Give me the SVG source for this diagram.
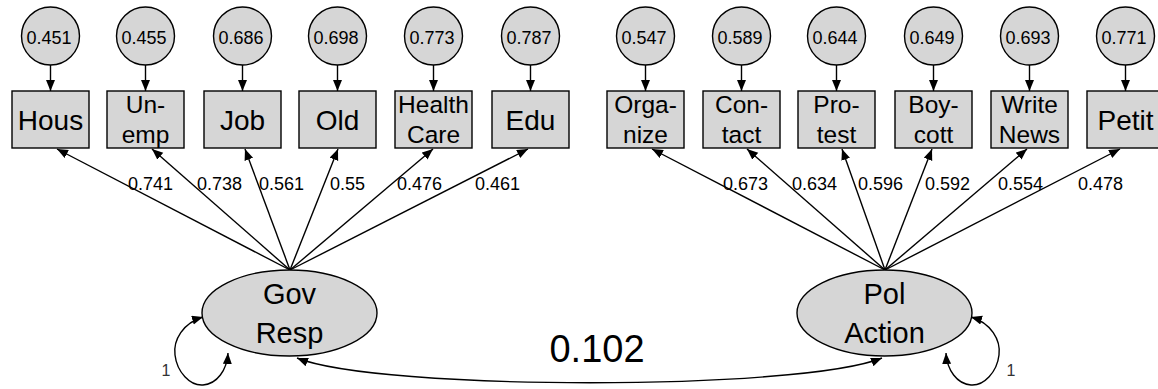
<svg xmlns="http://www.w3.org/2000/svg" width="1158" height="389" viewBox="0 0 1158 389">
  <style>
    text { font-family: "Liberation Sans", Arial, sans-serif; fill: #000; }
    .err circle { fill: #d6d6d6; stroke: #000; stroke-width: 1.4; }
    .err text { font-size: 18px; text-anchor: middle; }
    .obs rect { fill: #d6d6d6; stroke: #000; stroke-width: 1.4; }
    .obs text { text-anchor: middle; }
    .one { font-size: 28px; }
    .two { font-size: 24.5px; }
    .lat ellipse { fill: #d6d6d6; stroke: #000; stroke-width: 1.4; }
    .lat text { font-size: 29px; text-anchor: middle; }
    .edge { fill: none; stroke: #000; stroke-width: 1.4; marker-end: url(#head); }
    .both { marker-start: url(#headRev); }
    .coef { font-size: 18px; }
    .unit { font-size: 16px; text-anchor: middle; fill: #333; }
  </style>
  <defs>
    <marker id="head" markerUnits="userSpaceOnUse" markerWidth="12" markerHeight="10" refX="11" refY="4.5" orient="auto">
      <path d="M0,0 L11,4.5 L0,9 z" fill="#000"/>
    </marker>
    <marker id="headRev" markerUnits="userSpaceOnUse" markerWidth="12" markerHeight="10" refX="11" refY="4.5" orient="auto-start-reverse">
      <path d="M0,0 L11,4.5 L0,9 z" fill="#000"/>
    </marker>
  </defs>
  <rect width="1158" height="389" fill="#fff"/>

  <!-- connectors -->
  <g id="connectors">
    <!-- error terms to indicators -->
    <line class="edge" x1="50.5" y1="65" x2="50.5" y2="91"/>
    <line class="edge" x1="145.5" y1="65" x2="145.5" y2="91"/>
    <line class="edge" x1="242.5" y1="65" x2="242.5" y2="91"/>
    <line class="edge" x1="337.5" y1="65" x2="337.5" y2="91"/>
    <line class="edge" x1="433.5" y1="65" x2="433.5" y2="91"/>
    <line class="edge" x1="530.5" y1="65" x2="530.5" y2="91"/>
    <line class="edge" x1="645.5" y1="65" x2="645.5" y2="91"/>
    <line class="edge" x1="741.5" y1="65" x2="741.5" y2="91"/>
    <line class="edge" x1="836.5" y1="65" x2="836.5" y2="91"/>
    <line class="edge" x1="933.5" y1="65" x2="933.5" y2="91"/>
    <line class="edge" x1="1029.5" y1="65" x2="1029.5" y2="91"/>
    <line class="edge" x1="1125.5" y1="65" x2="1125.5" y2="91"/>
    <!-- Gov Resp loadings -->
    <line class="edge" x1="290" y1="270" x2="57" y2="149"/>
    <line class="edge" x1="290" y1="270" x2="152" y2="149"/>
    <line class="edge" x1="290" y1="270" x2="245" y2="149"/>
    <line class="edge" x1="290" y1="270" x2="338" y2="149"/>
    <line class="edge" x1="290" y1="270" x2="433" y2="149"/>
    <line class="edge" x1="290" y1="270" x2="528" y2="149"/>
    <!-- Pol Action loadings -->
    <line class="edge" x1="885" y1="270" x2="652" y2="149"/>
    <line class="edge" x1="885" y1="270" x2="747" y2="149"/>
    <line class="edge" x1="885" y1="270" x2="842" y2="149"/>
    <line class="edge" x1="885" y1="270" x2="932" y2="149"/>
    <line class="edge" x1="885" y1="270" x2="1027" y2="149"/>
    <line class="edge" x1="885" y1="270" x2="1120" y2="149"/>
    <!-- latent variances -->
    <path class="edge both" d="M203,317 C183,323 173,340 175,355 C177,372 190,386 203,385 C217,384 227,370 228,353"/>
    <path class="edge both" d="M971,317 C991,323 1001,340 999,355 C997,372 984,386 971,385 C957,384 947,370 946,353"/>
    <!-- covariance -->
    <path class="edge both" d="M297,358 C380,391 800,391 882,358"/>
    <!-- loading values -->
    <text class="coef" x="128" y="190">0.741</text>
    <text class="coef" x="197" y="190">0.738</text>
    <text class="coef" x="259" y="190">0.561</text>
    <text class="coef" x="330" y="190">0.55</text>
    <text class="coef" x="397" y="190">0.476</text>
    <text class="coef" x="475" y="190">0.461</text>
    <text class="coef" x="723" y="190">0.673</text>
    <text class="coef" x="792" y="190">0.634</text>
    <text class="coef" x="858" y="190">0.596</text>
    <text class="coef" x="925" y="190">0.592</text>
    <text class="coef" x="998" y="190">0.554</text>
    <text class="coef" x="1078" y="190">0.478</text>
    <text class="unit" x="166" y="376">1</text>
    <text class="unit" x="1011" y="376">1</text>
    <text style="font-size:38px" x="597" y="362" text-anchor="middle">0.102</text>
  </g>

  <!-- error terms -->
  <g id="e_hous" class="err"><circle cx="50.5" cy="36" r="29"/><text x="49" y="44">0.451</text></g>
  <g id="e_unemp" class="err"><circle cx="145.5" cy="36" r="29"/><text x="144" y="44">0.455</text></g>
  <g id="e_job" class="err"><circle cx="242.5" cy="36" r="29"/><text x="241" y="44">0.686</text></g>
  <g id="e_old" class="err"><circle cx="337.5" cy="36" r="29"/><text x="336" y="44">0.698</text></g>
  <g id="e_health" class="err"><circle cx="433.5" cy="36" r="29"/><text x="432" y="44">0.773</text></g>
  <g id="e_edu" class="err"><circle cx="530.5" cy="36" r="29"/><text x="529" y="44">0.787</text></g>
  <g id="e_organize" class="err"><circle cx="645.5" cy="36" r="29"/><text x="644" y="44">0.547</text></g>
  <g id="e_contact" class="err"><circle cx="741.5" cy="36" r="29"/><text x="740" y="44">0.589</text></g>
  <g id="e_protest" class="err"><circle cx="836.5" cy="36" r="29"/><text x="835" y="44">0.644</text></g>
  <g id="e_boycott" class="err"><circle cx="933.5" cy="36" r="29"/><text x="932" y="44">0.649</text></g>
  <g id="e_write" class="err"><circle cx="1029.5" cy="36" r="29"/><text x="1028" y="44">0.693</text></g>
  <g id="e_petit" class="err"><circle cx="1125.5" cy="36" r="29"/><text x="1124" y="44">0.771</text></g>

  <!-- indicators -->
  <g id="hous" class="obs"><rect x="12" y="91" width="77" height="57"/><text class="one" x="50.5" y="130">Hous</text></g>
  <g id="unemp" class="obs"><rect x="107" y="91" width="77" height="57"/><text class="two" x="145.5" y="113">Un-</text><text class="two" x="145.5" y="143">emp</text></g>
  <g id="job" class="obs"><rect x="204" y="91" width="77" height="57"/><text class="one" x="242.5" y="130">Job</text></g>
  <g id="old" class="obs"><rect x="299" y="91" width="77" height="57"/><text class="one" x="337.5" y="130">Old</text></g>
  <g id="health" class="obs"><rect x="395" y="91" width="77" height="57"/><text class="two" x="433.5" y="113">Health</text><text class="two" x="433.5" y="143">Care</text></g>
  <g id="edu" class="obs"><rect x="492" y="91" width="77" height="57"/><text class="one" x="530.5" y="130">Edu</text></g>
  <g id="organize" class="obs"><rect x="607" y="91" width="77" height="57"/><text class="two" x="645.5" y="113">Orga-</text><text class="two" x="645.5" y="143">nize</text></g>
  <g id="contact" class="obs"><rect x="703" y="91" width="77" height="57"/><text class="two" x="741.5" y="113">Con-</text><text class="two" x="741.5" y="143">tact</text></g>
  <g id="protest" class="obs"><rect x="798" y="91" width="77" height="57"/><text class="two" x="836.5" y="113">Pro-</text><text class="two" x="836.5" y="143">test</text></g>
  <g id="boycott" class="obs"><rect x="895" y="91" width="77" height="57"/><text class="two" x="933.5" y="113">Boy-</text><text class="two" x="933.5" y="143">cott</text></g>
  <g id="write" class="obs"><rect x="991" y="91" width="77" height="57"/><text class="two" x="1029.5" y="113">Write</text><text class="two" x="1029.5" y="143">News</text></g>
  <g id="petit" class="obs"><rect x="1087" y="91" width="77" height="57"/><text class="one" x="1125.5" y="130">Petit</text></g>

  <!-- latent factors -->
  <g id="gov_resp" class="lat"><ellipse cx="289.5" cy="313" rx="87.5" ry="43"/><text x="289.5" y="304">Gov</text><text x="289.5" y="343">Resp</text></g>
  <g id="pol_action" class="lat"><ellipse cx="884.5" cy="313" rx="87.5" ry="43"/><text x="884.5" y="304">Pol</text><text x="884.5" y="343">Action</text></g>
</svg>
